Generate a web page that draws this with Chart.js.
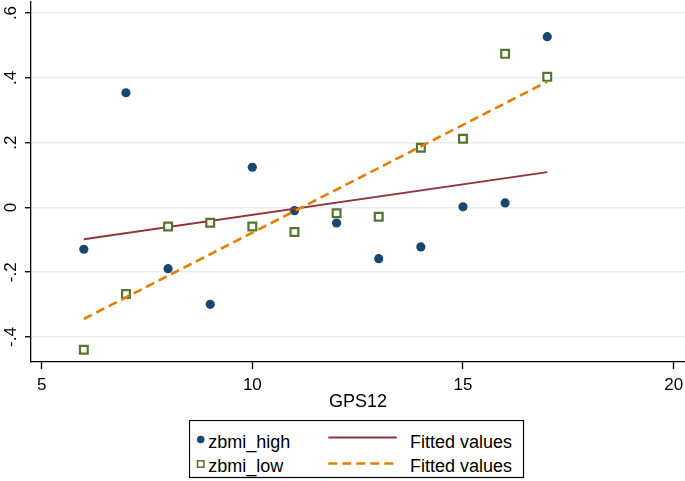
<!DOCTYPE html>
<html>
<head>
<meta charset="utf-8">
<script src="https://cdn.jsdelivr.net/npm/chart.js@4/dist/chart.umd.min.js"></script>
<style>
    body { margin: 0; background: #fff; }
    #wrap { position: relative; width: 685px; height: 481px; }
    #legend { position: absolute; left: 189px; top: 420px; }
</style>
</head>
<body>
<div id="wrap">
    <canvas id="fitChart" width="685" height="481"></canvas>
    <svg id="legend" width="336" height="59"></svg>
</div>
<script>
// values
const gps12 = [6, 7, 8, 9, 10, 11, 12, 13, 14, 15, 16, 17];
const zbmiHigh = [-0.129, 0.354, -0.189, -0.299, 0.124, -0.01, -0.048, -0.158, -0.122, 0.002, 0.014, 0.527];
const zbmiLow = [-0.439, -0.267, -0.059, -0.047, -0.059, -0.076, -0.018, -0.029, 0.184, 0.212, 0.474, 0.403];
const fitX = [6, 17];
const fitHigh = [-0.098, 0.109];
const fitLow = [-0.344, 0.388];
const xTicks = [5, 10, 15, 20];
const yTicks = [-0.4, -0.2, 0, 0.2, 0.4, 0.6];
const seriesNames = ['zbmi_high', 'Fitted values', 'zbmi_low', 'Fitted values'];

const navy = '#1a476f';
const maroon = '#90353b';
const green = 'rgb(85,117,47)';
const orange = '#e37e00';
const font = '"Liberation Sans", Arial, sans-serif';

function pts(xs, ys) {
    return xs.map((x, i) => ({ x: x, y: ys[i] }));
}

// stata style labels: .6 / -.4 / 0
function stataNum(v) {
    let s = String(Math.round(v * 10) / 10);
    return s.replace('0.', '.');
}

document.addEventListener('DOMContentLoaded', function () {
    var ctx = document.getElementById('fitChart').getContext('2d');
    new Chart(ctx, {
        type: 'scatter',
        data: {
            datasets: [{
                label: seriesNames[0],
                data: pts(gps12, zbmiHigh),
                pointStyle: 'circle',
                pointRadius: 4.6,
                backgroundColor: navy,
                borderWidth: 0,
                order: 4
            }, {
                label: seriesNames[1],
                data: pts(fitX, fitHigh),
                showLine: true,
                pointRadius: 0,
                borderColor: maroon,
                borderWidth: 2,
                order: 3
            }, {
                label: seriesNames[2],
                data: pts(gps12, zbmiLow),
                pointStyle: 'rect',
                pointRadius: 5.5,
                backgroundColor: '#fff',
                borderColor: green,
                borderWidth: 2.2,
                order: 2
            }, {
                label: seriesNames[3],
                data: pts(fitX, fitLow),
                showLine: true,
                pointRadius: 0,
                borderColor: orange,
                borderWidth: 2.6,
                borderDash: [9, 5],
                order: 1
            }]
        },
        options: {
            responsive: false,
            animation: false,
            events: [],
            layout: { autoPadding: false, padding: { top: 2, right: 0, bottom: 66, left: 0 } },
            plugins: { legend: { display: false }, tooltip: { enabled: false } },
            scales: {
                x: {
                    type: 'linear',
                    min: 4.746,
                    max: 20.27,
                    afterBuildTicks: s => { s.ticks = xTicks.map(v => ({ value: v })); },
                    afterFit: s => { s.height = 53; s.paddingLeft = 0; s.paddingRight = 0; },
                    grid: { drawOnChartArea: false, tickColor: '#000', tickLength: 7, tickWidth: 1.3 },
                    border: { color: '#000', width: 1.3 },
                    ticks: { color: '#000', padding: 6, font: { family: font, size: 17 } },
                    title: {
                        display: true, text: 'GPS12', color: '#000',
                        padding: { top: 0, bottom: 2 },
                        font: { family: font, size: 18 }
                    }
                },
                y: {
                    type: 'linear',
                    min: -0.477,
                    max: 0.634,
                    afterBuildTicks: s => { s.ticks = yTicks.map(v => ({ value: v })); },
                    afterFit: s => { s.width = 31; s.paddingTop = 0; s.paddingBottom = 0; },
                    grid: { color: '#e6eef2', lineWidth: 1.5, tickColor: '#000', tickLength: 6, tickWidth: 1.3 },
                    border: { color: '#000', width: 1.3 },
                    ticks: {
                        color: '#000', padding: 3.5,
                        minRotation: 90, maxRotation: 90, crossAlign: 'center',
                        font: { family: font, size: 17 },
                        callback: v => stataNum(v)
                    }
                }
            }
        }
    });

    // boxed two-column legend like stata's
    const svg = document.getElementById('legend');
    const ns = 'http://www.w3.org/2000/svg';
    function add(tag, attrs, text) {
        const el = document.createElementNS(ns, tag);
        for (const k in attrs) el.setAttribute(k, attrs[k]);
        if (text) el.textContent = text;
        svg.appendChild(el);
    }
    add('rect', { x: 0.5, y: 0.5, width: 334, height: 57, fill: '#fff', stroke: '#000', 'stroke-width': 1.2 });
    add('circle', { cx: 11.7, cy: 19.5, r: 3.8, fill: navy });
    add('rect', { x: 8.5, y: 40.8, width: 6.4, height: 6.4, fill: '#fff', stroke: green, 'stroke-width': 1.6 });
    add('line', { x1: 139.3, x2: 207.7, y1: 17.5, y2: 17.5, stroke: maroon, 'stroke-width': 2 });
    add('line', { x1: 139.3, x2: 207.7, y1: 43.5, y2: 43.5, stroke: orange, 'stroke-width': 2.4, 'stroke-dasharray': '9 5' });
    const tx = [19.3, 221, 19.3, 221];
    const ty = [27.5, 27.5, 51.6, 51.6];
    seriesNames.forEach((name, i) => {
        add('text', { x: tx[i], y: ty[i], 'font-family': font, 'font-size': 18, fill: '#000' }, name);
    });
});
</script>
</body>
</html>
